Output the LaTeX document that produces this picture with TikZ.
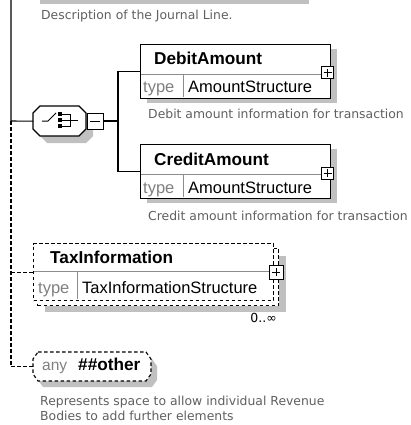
\documentclass[tikz,border=0pt]{standalone}
\usepackage{fontspec}
\setmainfont{Liberation Sans}
\newfontfamily\descfont{DejaVu Sans}
\definecolor{shadowgray}{RGB}{192,192,192}
\definecolor{descgray}{RGB}{96,96,96}
\definecolor{typegray}{RGB}{128,128,128}
\definecolor{divgray}{RGB}{140,140,140}
\tikzset{
  conn/.style={draw=black, line width=1.1pt},
  dconn/.style={draw=black, line width=1.1pt, dash pattern=on 3.5pt off 2.5pt},
  ebox/.style={rectangle, draw=black, line width=1.1pt, fill=white, inner sep=0pt, anchor=north west},
  dbox/.style={ebox, dash pattern=on 3.5pt off 2.5pt},
  anchorbox/.style={rectangle, draw=none, inner sep=0pt, anchor=north west},
  shadowfill/.style={fill=shadowgray, draw=none},
  divline/.style={draw=divgray, line width=0.9pt},
  elname/.style={font=\bfseries\fontsize{17.2}{19}\selectfont, anchor=base west, inner sep=0pt},
  tlabel/.style={font=\fontsize{16.5}{18}\selectfont, text=typegray, anchor=base west, inner sep=0pt},
  tval/.style={font=\fontsize{16.5}{18}\selectfont, anchor=base west, inner sep=0pt},
  desc/.style={font=\descfont\fontsize{12.4}{14}\selectfont, text=descgray, anchor=base west, inner sep=0pt},
  pbox/.style={rectangle, draw=black, line width=1pt, fill=white, minimum size=#1, inner sep=0pt,
    path picture={\draw[line width=1pt] ([xshift=-4pt]path picture bounding box.center) -- ([xshift=4pt]path picture bounding box.center)
      ([yshift=-4pt]path picture bounding box.center) -- ([yshift=4pt]path picture bounding box.center);}},
  mbox/.style={rectangle, draw=black, line width=1pt, fill=white, minimum size=16pt, inner sep=0pt,
    path picture={\draw[line width=1pt] ([xshift=-5pt]path picture bounding box.center) -- ([xshift=5pt]path picture bounding box.center);}},
}
\begin{document}
\begin{tikzpicture}[x=1pt,y=-1pt]
\fill[white] (0,0) rectangle (410,425);
\useasboundingbox (0,0) rectangle (410,425);

% top remnant of parent
\fill[shadowfill] (40,0) rectangle (309,4);
\node[desc] (desctop) at (41,20) {Description of the Journal Line.};

\coordinate (top) at (11,0);
\coordinate (j1) at (11,121);
\coordinate (j4) at (118,121);

% sequence compositor
\fill[shadowfill] (47,113) -- (86,113) -- (93,120) -- (93,136) -- (86,143) -- (47,143) -- (40,136) -- (40,120) -- cycle;
\draw[line width=1.1pt, fill=white] (40,106) -- (79,106) -- (86,113) -- (86,129) -- (79,136) -- (40,136) -- (33,129) -- (33,113) -- cycle;
\node[anchorbox, minimum width=53pt, minimum height=30pt] (seq) at (33,106) {};
\node[mbox] (seqmin) at (95,121) {};
% sequence symbol
\draw[line width=1pt] (42,121) -- (48,121) -- (56,113);
\fill (58,112) rectangle (62,116);
\fill (58,118) rectangle (62,122);
\fill (58,124) rectangle (62,128);
\draw[line width=1pt] (62,114) -- (70,114) -- (70,126) -- (62,126) (62,120) -- (78,120);

% DebitAmount
\fill[shadowfill] (147,49) rectangle (337,103);
\node[ebox, minimum width=190pt, minimum height=54pt] (debit) at (140,44) {};
\draw[divline] (140.6,74) -- (329.4,74) (183,74) -- (183,97.4);
\node[elname] (debitname) at (154,65) {DebitAmount};
\node[tlabel] (debittype) at (143,93) {type};
\node[tval] (debitval) at (188,93) {AmountStructure};
\node[pbox=12pt] (debitplus) at (327.5,73) {};
\node[desc] (debitdesc) at (148,118) {Debit amount information for transaction};

% CreditAmount
\fill[shadowfill] (147,149) rectangle (337,203);
\node[ebox, minimum width=190pt, minimum height=54pt] (credit) at (140,144) {};
\draw[divline] (140.6,174) -- (329.4,174) (183,174) -- (183,197.4);
\node[elname] (creditname) at (154,165) {CreditAmount};
\node[tlabel] (credittype) at (143,193) {type};
\node[tval] (creditval) at (188,193) {AmountStructure};
\node[pbox=12pt] (creditplus) at (327.5,173) {};
\node[desc] (creditdesc) at (148,220) {Credit amount information for transaction};

% TaxInformation
\fill[shadowfill] (45,256) rectangle (286,312);
\node[dbox, minimum width=241pt, minimum height=57pt] (taxback) at (37,248) {};
\node[dbox, minimum width=240pt, minimum height=57pt] (tax) at (33,243) {};
\draw[divline] (33.6,271) -- (272.4,271) (77,271) -- (77,299.4);
\node[elname] (taxname) at (50,263) {TaxInformation};
\node[tlabel] (taxtype) at (38,293) {type};
\node[tval] (taxval) at (82,293) {TaxInformationStructure};
\node[pbox=14pt] (taxplus) at (276,272) {};
\node[anchor=base east, inner sep=0pt, font=\descfont\fontsize{12.5}{14}\selectfont] (occ) at (277,322) {0..∞};

% any ##other
\fill[shadowfill] (43,359) -- (152,359) -- (157,366) -- (157,380) -- (152,387) -- (43,387) -- (38,380) -- (38,366) -- cycle;
\draw[line width=1.1pt, fill=white, dash pattern=on 3.5pt off 2.5pt] (38,352) -- (146,352) -- (151,359) -- (151,374) -- (146,381) -- (38,381) -- (33,374) -- (33,359) -- cycle;
\node[anchorbox, minimum width=118pt, minimum height=29pt] (anybox) at (33,352) {};
\node[tlabel, font=\fontsize{15.5}{18}\selectfont] (anylbl) at (42,370) {any};
\node[elname] (anyval) at (78,370) {\#\#other};
\node[desc] (anydesc1) at (40,405) {Represents space to allow individual Revenue};
\node[desc] (anydesc2) at (40,420) {Bodies to add further elements};

% connectors
\draw[conn] (top) -- (j1) -- (seq.west);
\draw[conn] (seqmin.east) -- (j4) |- (debit.west);
\draw[conn] (j4) |- (credit.west);
\draw[dconn] (j1) |- (anybox.west);
\draw[dconn] (tax.west -| j1) -- (tax.west);
\end{tikzpicture}
\end{document}
